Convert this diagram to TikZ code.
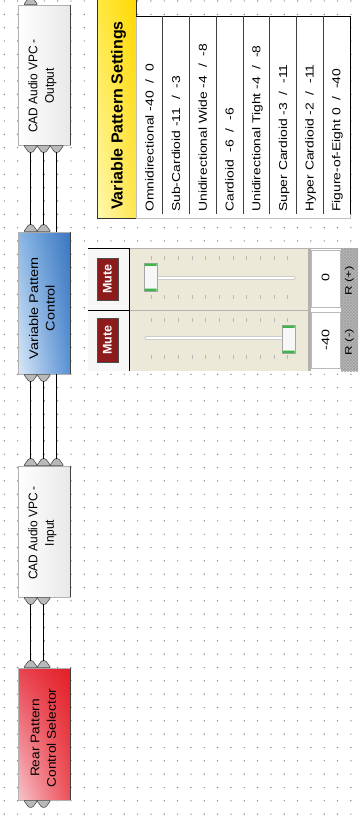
\documentclass[tikz,border=0pt]{standalone}
\usepackage{fontspec}
\setmainfont{Liberation Sans}
\usetikzlibrary{calc,positioning,patterns,shadings}

\definecolor{panelbg}{HTML}{ECE9D8}
\definecolor{mutered}{HTML}{8E1B1B}
\definecolor{dotc}{HTML}{7A7A7A}
\definecolor{thumbgreen}{HTML}{3DB54A}
\definecolor{bluea}{HTML}{8AB8E6}
\definecolor{blueb}{HTML}{DBE9F8}
\definecolor{bluec}{HTML}{3A76C0}
\definecolor{blued}{HTML}{5A92D4}
\definecolor{reda}{HTML}{E84450}
\definecolor{redb}{HTML}{F8C4CC}
\definecolor{redc}{HTML}{E41E26}
\definecolor{redd}{HTML}{EC5058}
\definecolor{yela}{HTML}{FFE840}
\definecolor{yelb}{HTML}{FFF8B0}
\definecolor{yelc}{HTML}{FFD800}
\definecolor{yeld}{HTML}{FFE650}

\tikzset{
  blk/.style={draw=gray!60, line width=0.6pt, minimum width=52pt, inner sep=0pt},
  blklbl/.style={rotate=90, align=center, inner sep=0pt, font=\fontsize{12.5}{16.5}\selectfont},
  port/.style={draw=black!70, fill=gray!55, line width=0.6pt, rounded corners=1pt},
  wire/.style={line width=1.2pt},
  portdn/.pic={\draw[port] (-7,0) -- (-2,7) -- (2,7) -- (7,0) -- cycle; \coordinate (-tip) at (0,7);},
  portup/.pic={\draw[port] (-7,0) -- (-2,-7) -- (2,-7) -- (7,0) -- cycle; \coordinate (-tip) at (0,-7);},
  patitem/.style={rotate=90, anchor=base west, inner sep=0pt, xscale=1.21, font=\fontsize{11.5}{13}\selectfont},
  mutebtn/.style={draw=black!70, fill=mutered, line width=0.6pt, minimum width=21pt, inner sep=0pt},
  mutetxt/.style={rotate=90, text=white, font=\bfseries\fontsize{12.5}{14}\selectfont},
}

\begin{document}
\begin{tikzpicture}[x=1pt,y=-1pt]
\useasboundingbox (0,0) rectangle (363,828);
\fill[white] (0,0) rectangle (363,828);
% grid of the work area
\foreach \i in {0,...,27}
  \foreach \j in {0,...,61}
    \fill[dotc] (4.3+13.33*\i, 1+13.33*\j) circle (0.7);

% processing blocks
\node[blk, minimum height=140pt, left color=white, right color=gray!18] (out) at (44,75) {};
\node[blk, minimum height=142pt, upper left=bluea, lower left=blueb, upper right=bluec, lower right=blued] (vpc) at (44,303) {};
\node[blk, minimum height=131pt, left color=white, right color=gray!18] (inp) at (44,531.5) {};
\node[blk, minimum height=132pt, upper left=reda, lower left=redb, upper right=redc, lower right=redd] (rear) at (44,734) {};
\foreach \b in {out,vpc,inp,rear}
  \draw[line width=1.4pt, black!75] (\b.north east) -- (\b.south east);

\node[blklbl, xscale=0.95] (outlbl) at (42.5,86) {CAD Audio VPC -\\Output};
\node[blklbl, xscale=1.15] (vpclbl) at (42,308) {Variable Pattern\\Control};
\node[blklbl, xscale=0.95] (inplbl) at (42.5,533) {CAD Audio VPC -\\Input};
\node[blklbl, xscale=1.1] (rearlbl) at (43.5,738) {Rear Pattern\\Control Selector};

% ports
\pic (ot1) at ($(out.north west)+(13,0)$) {portup};
\coordinate (otend) at ($(ot1-tip)+(0,-8)$);
\foreach \k in {1,2,3} \pic (ob\k) at ($(out.south west)+(13*\k,0)$) {portdn};
\foreach \k in {1,2} \pic (vt\k) at ($(vpc.north west)+(13*\k,0)$) {portup};
\coordinate (vt3-tip) at ($(vpc.north west)+(39,0)$);
\foreach \k in {1,2} \pic (vb\k) at ($(vpc.south west)+(13*\k,0)$) {portdn};
\coordinate (vb3-tip) at ($(vpc.south west)+(39,0)$);
\foreach \k in {1,2,3} \pic (ipt\k) at ($(inp.north west)+(13*\k,0)$) {portup};
\foreach \k in {1,2} \pic (ipb\k) at ($(inp.south west)+(13*\k,0)$) {portdn};
\foreach \k in {1,2} \pic (rt\k) at ($(rear.north west)+(13*\k,0)$) {portup};
\foreach \k in {1,2} \pic (rb\k) at ($(rear.south west)+(13*\k,0)$) {portdn};

% wires
\draw[wire] (ot1-tip) -- (otend);
\foreach \k in {1,2,3} \draw[wire] (ob\k-tip) -- (vt\k-tip);
\foreach \k in {1,2,3} \draw[wire] (vb\k-tip) -- (ipt\k-tip);
\foreach \k in {1,2} \draw[wire] (ipb\k-tip) -- (rt\k-tip);

% pattern settings list
\node[draw=black!80, line width=0.6pt, minimum width=39pt, minimum height=222pt, inner sep=0pt,
  upper left=yela, lower left=yelb, upper right=yelc, lower right=yeld] (vps) at (116.5,107) {};
\node[rotate=90, anchor=base west, inner sep=0pt, font=\bfseries\fontsize{16}{18}\selectfont] (vpstxt) at (122.5,210) {Variable Pattern Settings};
\draw[fill=white, draw=gray!50] (136,16) rectangle (350,218);
\draw[line width=0.9pt] (136,16) -- (350,16) -- (350,214);
\foreach \k in {1,...,7} \draw[black!75, line width=0.6pt] (136+26.7*\k,16) -- (136+26.7*\k,214);
\foreach \t [count=\k] in {Omnidirectional -40 \ / \ 0, Sub-Cardioid -11 \ / \ -3, Unidirectional Wide -4 \ / \ -8,
  Cardioid \ -6 \ / \ -6, Unidirectional Tight -4 \ / \ -8, Super Cardioid -3 \ / \ -11,
  Hyper Cardioid -2 \ / \ -11, Figure-of-Eight 0 \ / \ -40}
  \node[patitem] (pat\k) at (136+26.7*\k-9.2, 212) {\t};

% level panel
\fill[gray!6] (88,248) rectangle (129,371);
\fill[panelbg] (129,248) rectangle (308,371);
\fill[gray!60] (308,248) rectangle (311,371);
\fill[white] (311,248) rectangle (341,371);
\fill[gray!55] (341,248) rectangle (358,371);
\fill[pattern=crosshatch, pattern color=gray!75] (341,248) rectangle (358,371);
\draw[gray!55, line width=0.6pt] (311.5,250) rectangle (340,307) (311.5,312) rectangle (340,368);
\draw[gray!60, line width=0.8pt] (129,248) -- (341,248) (129,310) -- (308,310);
\draw[line width=0.8pt] (88,248) -- (129,248) (88,310) -- (129,310) (129,248) -- (129,371);

\node[mutebtn, minimum height=42pt] (mute1) at (107.5,279) {};
\node[mutetxt] (mute1txt) at (mute1.center) {Mute};
\node[mutebtn, minimum height=44pt] (mute2) at (107.5,340) {};
\node[mutetxt] (mute2txt) at (mute2.center) {Mute};

% sliders
\foreach \y in {258,297,320,357}
  \foreach \k in {0,...,10}
    \draw[gray!55, line width=0.8pt] (151+13.67*\k,\y-2) -- (151+13.67*\k,\y+2);
\foreach \y in {278,338}
  \draw[fill=white, draw=gray!55, line width=0.5pt, rounded corners=1pt] (145,\y-1.5) rectangle (295,\y+1.5);
\foreach \x/\y in {144/263,282/325}{
  \draw[fill=gray!6, draw=gray!70, line width=0.6pt] (\x,\y) rectangle (\x+13,\y+28.5);
  \fill[thumbgreen] (\x+0.5,\y+0.5) rectangle (\x+12.5,\y+2.8) (\x+0.5,\y+25.7) rectangle (\x+12.5,\y+28);
}

\node[rotate=90, font=\fontsize{11}{13}\selectfont, xscale=1.3] (val1) at (325.5,278) {0};
\node[rotate=90, font=\fontsize{11}{13}\selectfont, xscale=1.3] (val2) at (325.5,340) {-40};
\node[rotate=90, font=\fontsize{9.5}{11}\selectfont, xscale=1.4] (ch1) at (349.5,281) {R (+)};
\node[rotate=90, font=\fontsize{9.5}{11}\selectfont, xscale=1.4] (ch2) at (349.5,342) {R (-)};
\end{tikzpicture}
\end{document}
